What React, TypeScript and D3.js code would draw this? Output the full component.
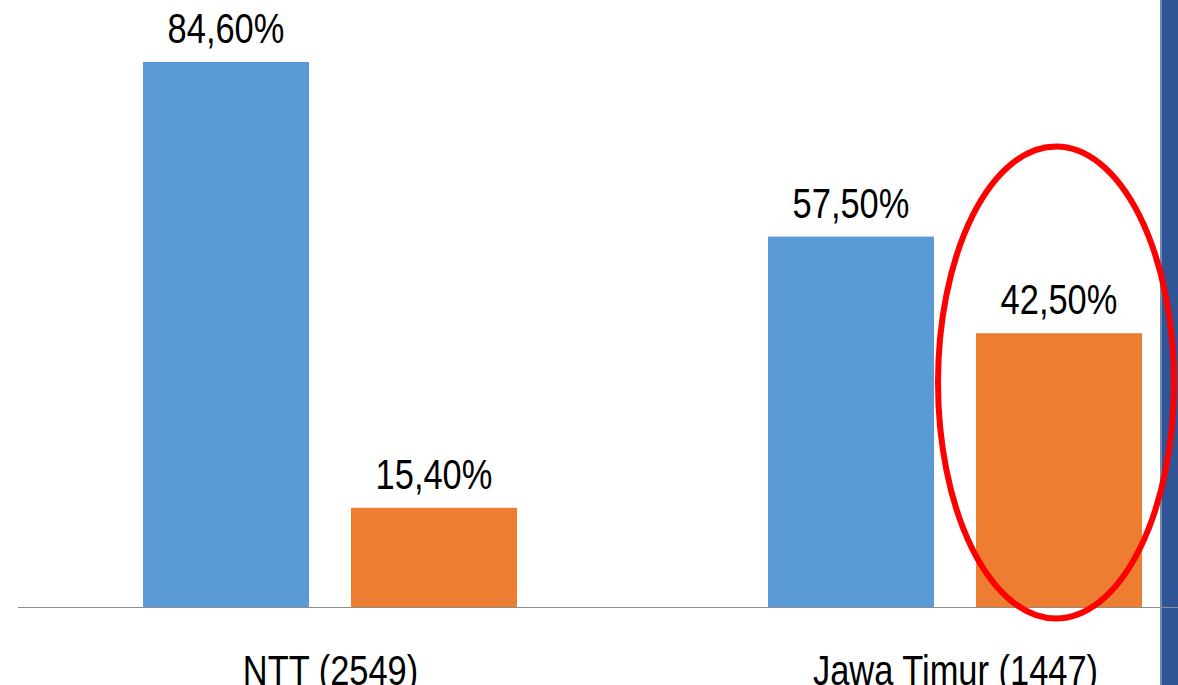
import React from "react";
import * as d3 from "d3";

// Share of respondents per region (two series per region)
const categories = ["NTT (2549)", "Jawa Timur (1447)"];
const seriesKeys = ["a", "b"];
const seriesA = [84.6, 57.5];
const seriesB = [15.4, 42.5];
const valueLabels = [
  ["84,60%", "15,40%"],
  ["57,50%", "42,50%"],
];
const colors = ["#5B9BD5", "#ED7D31"];

const W = 1178;
const H = 685;
const FONT = '"Liberation Sans", Arial, sans-serif';
const NARROW = 0.82; // horizontal squeeze giving a narrow face

function NarrowText({ x, y, children }: { x: number; y: number; children: React.ReactNode }) {
  return (
    <g transform={`translate(${x},${y}) scale(${NARROW},1)`}>
      <text x={0} y={0} textAnchor="middle" fontFamily={FONT} fontSize={42} fill="#000">
        {children}
      </text>
    </g>
  );
}

export default function App() {
  const baseline = 607;
  const x0 = d3.scaleBand<string>().domain(categories).range([18, 1268]).padding(0);
  const x1 = d3
    .scaleBand<string>()
    .domain(seriesKeys)
    .range([125, 499])
    .paddingInner(42 / 208)
    .paddingOuter(0);
  const y = d3.scaleLinear().domain([0, 100]).range([baseline, baseline - 644.2]);

  const rows = categories.map((c, i) => ({ c, vals: [seriesA[i], seriesB[i]], labels: valueLabels[i] }));

  // Highlight ellipse around the second series of the second region
  const hx = x0(categories[1])! + x1("b")! + x1.bandwidth() / 2 - 3;

  return (
    <svg
      width={W}
      height={H}
      style={{ position: "absolute", left: 0, top: 0, display: "block", background: "#fff" }}
    >
      <rect x={0} y={0} width={W} height={H} fill="#fff" />
      {rows.map((r) => (
        <g key={r.c} transform={`translate(${x0(r.c)},0)`}>
          {r.vals.map((v, j) => (
            <g key={j}>
              <rect
                x={x1(seriesKeys[j])}
                y={y(v)}
                width={x1.bandwidth()}
                height={baseline - y(v)}
                fill={colors[j]}
              />
              <NarrowText x={x1(seriesKeys[j])! + x1.bandwidth() / 2} y={y(v) - 19}>
                {r.labels[j]}
              </NarrowText>
            </g>
          ))}
          <NarrowText x={x0.bandwidth() / 2} y={685}>
            {r.c}
          </NarrowText>
        </g>
      ))}
      <rect x={1160} y={0} width={2} height={H} fill="#7088AE" />
      <rect x={1162} y={0} width={16} height={H} fill="#2F5597" />
      <line x1={18} x2={1178} y1={baseline + 0.5} y2={baseline + 0.5} stroke="#8C8C8C" strokeWidth={1} />
      <ellipse cx={hx} cy={382.5} rx={118} ry={236} fill="none" stroke="#FF0000" strokeWidth={6} />
    </svg>
  );
}
